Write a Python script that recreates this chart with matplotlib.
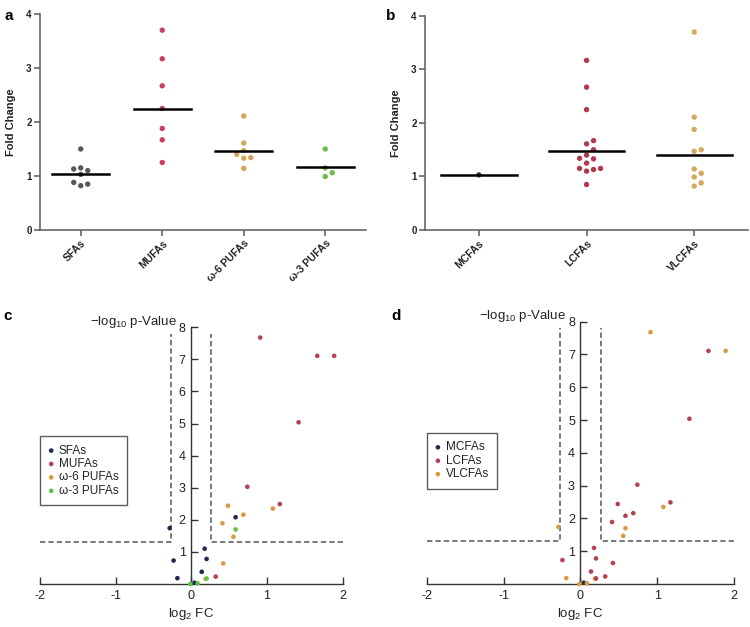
import numpy as np
import matplotlib
matplotlib.use("Agg")
import matplotlib.pyplot as plt

plt.rcParams['font.family'] = ['Liberation Sans', 'DejaVu Sans']
plt.rcParams['mathtext.fontset'] = 'custom'
plt.rcParams['mathtext.rm'] = 'Liberation Sans'
plt.rcParams['axes.unicode_minus'] = False

# one entry per fatty acid: saturation class, chain-length class, fold change, -log10 p
sat_class = ['MUFA', 'MUFA', 'MUFA', 'MUFA', 'MUFA', 'MUFA', 'MUFA',
             'w6', 'w6', 'w6', 'w6', 'w6', 'w6', 'w6',
             'SFA', 'SFA', 'SFA', 'SFA', 'SFA', 'SFA', 'SFA', 'SFA',
             'w3', 'w3', 'w3', 'w3']
chain_class = ['VLCFA', 'LCFA', 'VLCFA', 'LCFA', 'LCFA', 'LCFA', 'LCFA',
               'LCFA', 'LCFA', 'VLCFA', 'LCFA', 'VLCFA', 'LCFA', 'VLCFA',
               'VLCFA', 'LCFA', 'LCFA', 'LCFA', 'LCFA', 'LCFA', 'VLCFA', 'MCFA',
               'VLCFA', 'LCFA', 'VLCFA', 'VLCFA']
fold_change = [1.88, 3.17, 3.70, 2.67, 1.67, 2.25, 1.25,
               1.40, 1.61, 2.11, 1.33, 1.47, 1.34, 1.14,
               0.82, 1.50, 1.13, 1.15, 0.85, 1.10, 0.88, 1.03,
               1.50, 1.15, 1.06, 0.99]
neg_log_p = [7.68, 7.11, 7.11, 5.04, 3.03, 2.49, 0.23,
             2.44, 2.16, 2.35, 1.89, 1.47, 0.64, 0.16,
             1.74, 2.08, 1.10, 0.78, 0.73, 0.38, 0.18, 0.04,
             1.70, 0.17, 0.02, 0.00]

sat_groups = ['SFA', 'MUFA', 'w6', 'w3']
sat_labels = ['SFAs', 'MUFAs', 'ω-6 PUFAs', 'ω-3 PUFAs']
chain_groups = ['MCFA', 'LCFA', 'VLCFA']
chain_labels = ['MCFAs', 'LCFAs', 'VLCFAs']

fc_cut = 1.2
p_cut = 0.05
cut_top = 7.8

sat_col_a = ['#56575f', '#cc3d5c', '#d4a45c', '#6abf4b']
chain_col_b = ['#3a3a3a', '#b2384b', '#d6a85e']
sat_col_c = ['#1d2b4f', '#b8414f', '#d99a3d', '#62c14b']
chain_col_d = ['#1d2b4f', '#b8414f', '#d99a3d']

sat_class = np.array(sat_class)
chain_class = np.array(chain_class)
fold_change = np.array(fold_change)
neg_log_p = np.array(neg_log_p)
log2fc = np.log2(fold_change)


def swarm_x(ax, x0, vals, d=6.4, step=7.0):
    # simple beeswarm in pixel space
    xpx = ax.bbox.width / np.diff(ax.get_xlim())[0]
    ypx = ax.bbox.height / np.diff(ax.get_ylim())[0]
    order = np.argsort(vals)
    placed = []
    xs = np.zeros(len(vals))
    for i in order:
        y = vals[i] * ypx
        for k in [0, 1, -1, 2, -2, 3, -3, 4, -4]:
            xo = k * step
            if all(np.hypot(xo - px, y - py) >= d for px, py in placed):
                break
        placed.append((xo, y))
        xs[i] = x0 + xo / xpx
    return xs


def dot_panel(ax, groups, labels, classes, colors, nticks):
    ax.set_xlim(-0.5, nticks - 0.5)
    ax.set_ylim(0, 4)
    for i, g in enumerate(groups):
        v = fold_change[classes == g]
        xs = swarm_x(ax, i, v)
        ax.scatter(xs, v, s=15, color=colors[i], edgecolor='none', zorder=3, clip_on=False)
        gm = 2 ** np.mean(np.log2(v))
        ax.plot([i - 0.35, i + 0.35], [gm, gm], color='black', lw=1.8, zorder=4)
    ax.set_xticks(range(nticks))
    ax.set_xticklabels(labels, rotation=45, ha='right', rotation_mode='anchor',
                       fontsize=7.5, fontweight='bold', color='#222222')
    ax.set_yticks([0, 1, 2, 3, 4])
    ax.set_yticklabels(['0', '1', '2', '3', '4'], fontsize=7, fontweight='bold', color='#222222')
    ax.set_ylabel('Fold Change', fontsize=8, fontweight='bold', labelpad=7, color='#222222')
    for s in ['top', 'right']:
        ax.spines[s].set_visible(False)
    for s in ['left', 'bottom']:
        ax.spines[s].set_color('#5a5a5a')
        ax.spines[s].set_linewidth(1.1)
    ax.tick_params(length=4, width=1.1, color='#5a5a5a', pad=2)


def volcano_panel(ax, groups, labels, classes, colors, zorders):
    ax.set_xlim(-2, 2)
    ax.set_ylim(0, 8)
    for i, g in enumerate(groups):
        m = classes == g
        ax.scatter(log2fc[m], neg_log_p[m], s=11, color=colors[i], edgecolor='none',
                   zorder=zorders[i], clip_on=False, label=labels[i])
    xc = np.log2(fc_cut)
    yc = -np.log10(p_cut)
    dash = dict(color='#555555', lw=1.1, ls=(0, (3.5, 2)), zorder=1)
    ax.plot([-2, -xc, -xc], [yc, yc, cut_top], **dash)
    ax.plot([2, xc, xc], [yc, yc, cut_top], **dash)
    ax.spines['left'].set_position(('data', 0))
    ax.spines['bottom'].set_position(('data', 0))
    for s in ['top', 'right']:
        ax.spines[s].set_visible(False)
    for s in ['left', 'bottom']:
        ax.spines[s].set_color('#333333')
        ax.spines[s].set_linewidth(1.0)
    ax.set_xticks([-2, -1, 0, 1, 2])
    ax.set_yticks(range(1, 9))
    ax.tick_params(direction='in', length=5, width=1.0, color='#333333',
                   labelsize=9, pad=4, labelcolor='#222222')
    ax.set_xlabel(r'$\mathregular{log_2}$ FC', fontsize=9.5, labelpad=3, color='#222222')
    ax.text(-0.19, 8.17, r'$\mathregular{-log_{10}}$ p-Value', fontsize=9.5,
            ha='right', va='center', color='#222222')
    leg = ax.legend(loc='upper left', bbox_to_anchor=(0.0, 0.575), borderaxespad=0,
                    fontsize=8.5, frameon=True, fancybox=False, handlelength=0.5,
                    handletextpad=0.4, labelspacing=0.12, borderpad=0.7,
                    markerscale=1.0)
    leg.get_frame().set_edgecolor('#333333')
    leg.get_frame().set_linewidth(1.0)
    for t in leg.get_texts():
        t.set_color('#222222')


fig = plt.figure(figsize=(7.5, 6.27), dpi=100)

ax_a = fig.add_axes([0.0533, 0.6332, 0.4347, 0.3445])
dot_panel(ax_a, sat_groups, sat_labels, sat_class, sat_col_a, 4)

ax_b = fig.add_axes([0.5667, 0.6332, 0.4307, 0.3413])
dot_panel(ax_b, chain_groups, chain_labels, chain_class, chain_col_b, 3)

ax_c = fig.add_axes([0.0533, 0.0686, 0.4036, 0.4094])
volcano_panel(ax_c, sat_groups, sat_labels, sat_class, sat_col_c, [3, 3, 3, 3])

ax_d = fig.add_axes([0.5689, 0.0686, 0.4101, 0.4183])
volcano_panel(ax_d, chain_groups, chain_labels, chain_class, chain_col_d, [2, 4, 3])

for lab, x, y in [('a', 0.006, 0.985), ('b', 0.515, 0.985), ('c', 0.004, 0.507), ('d', 0.522, 0.507)]:
    fig.text(x, y, lab, fontsize=11, fontweight='bold', va='top')

fig.savefig('out.png', dpi=100)
